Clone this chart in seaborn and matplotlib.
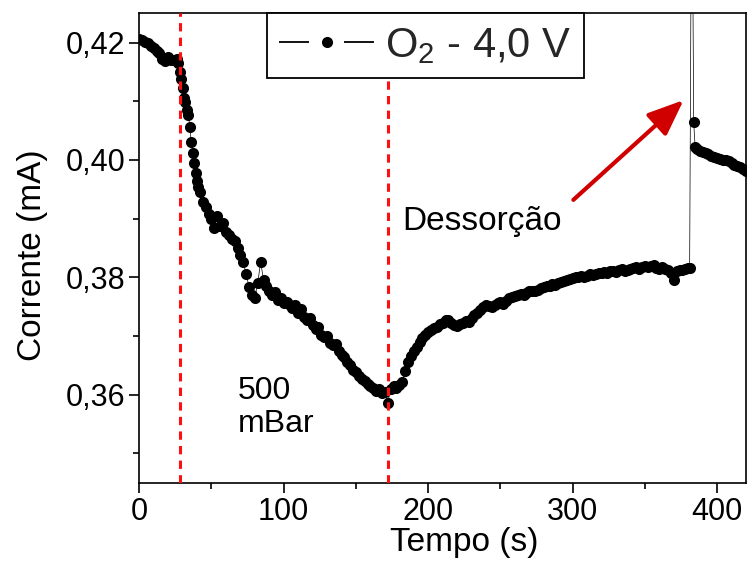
import numpy as np
import pandas as pd
import seaborn as sns
import matplotlib
matplotlib.use("Agg")
import matplotlib.pyplot as plt
from matplotlib.lines import Line2D
from matplotlib.ticker import MultipleLocator, FuncFormatter

# Current response of the sensor to O2 at 4,0 V
tempo = [
    0, 2, 4, 6, 8, 10, 12, 14, 16, 18, 20, 22, 24, 26,
    27, 28, 29, 30, 31, 32, 33, 34, 35, 36, 37, 38, 39, 40, 41,
    42, 44, 46, 48, 50, 52, 54, 56, 58, 60,
    62, 64, 66, 68, 70, 72, 74, 76, 78, 80, 82, 84, 86, 88, 90, 92, 94, 96, 98, 100,
    102, 104, 106, 108, 110, 112, 114, 116, 118, 120, 122, 124, 126, 128, 130, 132, 134, 136, 138, 140,
    142, 144, 146, 148, 150, 152, 154, 156, 158, 160, 162, 164, 166, 168, 170,
    172, 174, 176, 178, 180, 182, 184, 186, 188, 190, 192, 194, 196, 198, 200,
    202, 204, 206, 208, 210, 212, 214, 216, 218, 220, 222, 224, 226, 228, 230, 232, 234, 236, 238, 240,
    242, 244, 246, 248, 250, 252, 254, 256, 258, 260, 262, 264, 266, 268, 270, 272, 274, 276, 278, 280,
    282, 284, 286, 288, 290, 292, 294, 296, 298, 300, 302, 304, 306, 308, 310, 312, 314, 316, 318, 320,
    322, 324, 326, 328, 330, 332, 334, 336, 338, 340, 342, 344, 346, 348, 350, 352, 354, 356, 358, 360,
    362, 364, 366, 368, 370, 372, 374, 376, 378, 380, 381,
    382.5, 383.8, 384.8, 386, 388, 390, 392, 394, 396, 398, 400, 402, 404, 406, 408, 410,
    412, 414, 416, 418, 420, 422,
]
corrente = [
    0.4206, 0.4204, 0.4201, 0.4199, 0.4194, 0.4191, 0.4186, 0.4183, 0.4172, 0.4168, 0.4176, 0.4170, 0.4171, 0.4172,
    0.4166, 0.4150, 0.4138, 0.4122, 0.4105, 0.4098, 0.4085, 0.4077, 0.4056, 0.4030, 0.4012, 0.3995, 0.3978, 0.3965, 0.3954,
    0.3945, 0.3928, 0.3920, 0.3908, 0.3900, 0.3884, 0.3905, 0.3888, 0.3892, 0.3878,
    0.3872, 0.3866, 0.3862, 0.3850, 0.3838, 0.3826, 0.3805, 0.3784, 0.3770, 0.3765, 0.3790, 0.3826, 0.3796, 0.3786, 0.3776, 0.3770, 0.3775, 0.3762, 0.3764, 0.3756,
    0.3758, 0.3752, 0.3748, 0.3752, 0.3740, 0.3746, 0.3732, 0.3728, 0.3730, 0.3718, 0.3712, 0.3716, 0.3702, 0.3698, 0.3700, 0.3688, 0.3684, 0.3686, 0.3674, 0.3668,
    0.3664, 0.3655, 0.3650, 0.3642, 0.3638, 0.3632, 0.3626, 0.3624, 0.3618, 0.3614, 0.3612, 0.3606, 0.3609, 0.3603, 0.3604,
    0.3586, 0.3610, 0.3614, 0.3611, 0.3617, 0.3622, 0.3640, 0.3656, 0.3666, 0.3674, 0.3682, 0.3690, 0.3696, 0.3702, 0.3706,
    0.3710, 0.3714, 0.3716, 0.3720, 0.3722, 0.3727, 0.3728, 0.3722, 0.3718, 0.3717, 0.3720, 0.3722, 0.3726, 0.3724, 0.3730, 0.3736, 0.3740, 0.3745, 0.3750, 0.3753,
    0.3751, 0.3750, 0.3752, 0.3756, 0.3758, 0.3755, 0.3760, 0.3765, 0.3767, 0.3768, 0.3770, 0.3771, 0.3770, 0.3774, 0.3776, 0.3777, 0.3776, 0.3779, 0.3782, 0.3784,
    0.3785, 0.3786, 0.3788, 0.3787, 0.3790, 0.3792, 0.3793, 0.3795, 0.3797, 0.3799, 0.3800, 0.3800, 0.3802, 0.3801, 0.3803, 0.3805, 0.3804, 0.3806, 0.3808, 0.3808,
    0.3809, 0.3807, 0.3810, 0.3811, 0.3809, 0.3812, 0.3814, 0.3811, 0.3813, 0.3815, 0.3816, 0.3818, 0.3815, 0.3817, 0.3819, 0.3818, 0.3820, 0.3821, 0.3816, 0.3815,
    0.3817, 0.3814, 0.3812, 0.3808, 0.3796, 0.3810, 0.3813, 0.3812, 0.3815, 0.3816, 0.3816,
    0.4600, 0.4064, 0.4022, 0.4018, 0.4016, 0.4014, 0.4012, 0.4010, 0.4006, 0.4005, 0.4004, 0.4001, 0.4000, 0.4000, 0.3998, 0.3995,
    0.3992, 0.3990, 0.3988, 0.3985, 0.3982, 0.3980,
]

marcos_tempo = [28, 172]          # start / end of gas exposure
xticks = [0, 100, 200, 300, 400]
yticks = [0.36, 0.38, 0.40, 0.42]

df = pd.DataFrame({"Tempo": tempo, "Corrente": corrente})

sns.set_style("ticks")
plt.rcParams["font.family"] = ["Liberation Sans", "DejaVu Sans"]
plt.rcParams["mathtext.fontset"] = "custom"
plt.rcParams["mathtext.rm"] = "Liberation Sans"
plt.rcParams["mathtext.it"] = "Liberation Sans"
plt.rcParams["lines.scale_dashes"] = False

fig = plt.figure(figsize=(7.52, 5.65), dpi=100)
ax = fig.add_axes([0.1852, 0.1457, 0.8068, 0.8308])

sns.lineplot(data=df, x="Tempo", y="Corrente", ax=ax, color="black",
             linewidth=0.5, marker="o", markersize=8, markeredgewidth=0,
             estimator=None, sort=False, zorder=3)

for t in marcos_tempo:
    ax.axvline(t, color="#ff1010", lw=2.2, dashes=(6, 4.5), zorder=4)

ax.set_xlim(0, 420)
ax.set_ylim(0.345, 0.425)
ax.set_xticks(xticks)
ax.set_yticks(yticks)
ax.xaxis.set_minor_locator(MultipleLocator(50))
ax.yaxis.set_minor_locator(MultipleLocator(0.01))
ax.yaxis.set_major_formatter(FuncFormatter(lambda v, p: f"{v:.2f}".replace(".", ",")))
ax.xaxis.set_major_formatter(FuncFormatter(lambda v, p: f"{v:.0f}"))

ax.tick_params(axis="both", which="major", direction="out", length=7, width=1.2,
               labelsize=22, pad=3, color="black", labelcolor="black")
ax.tick_params(axis="both", which="minor", direction="out", length=4, width=1.2,
               color="black")
for s in ax.spines.values():
    s.set_visible(True)
    s.set_linewidth(1.2)
    s.set_color("black")

ax.set_xlabel("Tempo (s)", fontsize=24, color="black")
ax.set_ylabel("Corrente (mA)", fontsize=24, color="black")
ax.xaxis.set_label_coords(0.535, -0.095)
ax.yaxis.set_label_coords(-0.15, 0.485)

ax.text(68, 0.3632, "500\nmBar", fontsize=23, va="top", ha="left",
        linespacing=1.15, color="black")
ax.text(182, 0.3881, "Dessorção", fontsize=24, va="baseline", ha="left",
        color="black")
ax.annotate("", xy=(376.8, 0.4102), xytext=(300.5, 0.3932),
            arrowprops=dict(arrowstyle="-|>,head_length=1.1,head_width=0.45",
                            mutation_scale=20, color="#d10000", lw=3,
                            shrinkA=0, shrinkB=0), zorder=5)

handle = Line2D([], [], color="black", lw=1.3, dashes=(21.6, 25.2),
                marker="o", markersize=8, markeredgewidth=0)
leg = ax.legend([handle], [r"O$_2$ - 4,0 V"], loc="upper left",
                bbox_to_anchor=(0.2105, 1.0), borderaxespad=0,
                fontsize=30, handlelength=2.28, handletextpad=0.25,
                borderpad=0.3, frameon=True, fancybox=False,
                framealpha=1, edgecolor="black")
leg.get_frame().set_linewidth(1.3)
leg.set_zorder(6)

fig.savefig("out.png", dpi=100)
